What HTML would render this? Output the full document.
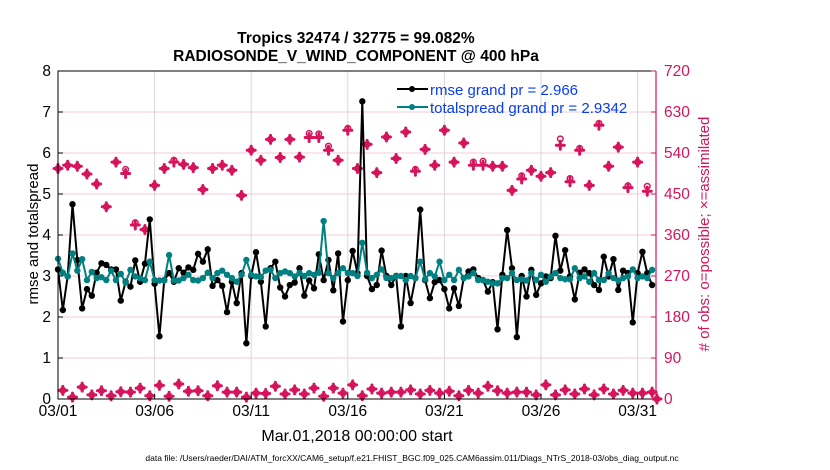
<!DOCTYPE html>
<html><head><meta charset="utf-8"><style>
body{margin:0;background:#fff;}
svg{display:block;font-family:"Liberation Sans",Arial,sans-serif;}
</style></head><body>
<svg id="chart" width="830" height="470" viewBox="0 0 830 470">
<text x="356" y="43" text-anchor="middle" font-size="15.5" font-weight="bold">Tropics 32474 / 32775 = 99.082%</text>
<text x="356" y="61" text-anchor="middle" font-size="15.5" font-weight="bold">RADIOSONDE_V_WIND_COMPONENT @ 400 hPa</text>
<g id="grid"></g>
<g id="obs"></g>
<g id="lines"></g>
<g id="axes"></g>
<g>
<line x1="397" y1="89" x2="428" y2="89" stroke="#000" stroke-width="2"/><circle cx="412" cy="89" r="3" fill="#000"/>
<text x="430" y="95" font-size="15" fill="#0a3cf0">rmse grand pr = 2.966</text>
<line x1="397" y1="107" x2="428" y2="107" stroke="#008080" stroke-width="2"/><circle cx="412" cy="107" r="3" fill="#008080"/>
<text x="430" y="113" font-size="15" fill="#0a3cf0">totalspread grand pr = 2.9342</text>
</g>
<text transform="translate(38,234) rotate(-90)" text-anchor="middle" font-size="15">rmse and totalspread</text>
<text transform="translate(709,234) rotate(-90)" text-anchor="middle" font-size="15" fill="#d6145c"># of obs: o=possible; ×=assimilated</text>
<text x="357" y="441" text-anchor="middle" font-size="16">Mar.01,2018 00:00:00 start</text>
<text x="412" y="461" text-anchor="middle" font-size="8.5">data file: /Users/raeder/DAI/ATM_forcXX/CAM6_setup/f.e21.FHIST_BGC.f09_025.CAM6assim.011/Diags_NTrS_2018-03/obs_diag_output.nc</text>
</svg>
<script>
const rmse=[3.16,2.17,2.99,4.75,3.39,2.21,2.68,2.52,3.08,3.31,3.27,3.16,3.16,2.4,2.86,2.74,3.38,2.86,3.3,4.38,2.81,1.53,2.9,3.07,2.86,3.19,3.08,3.21,3.15,3.54,3.35,3.65,
2.76,2.9,2.76,2.12,2.86,2.34,3.07,1.36,3.0,3.58,2.86,1.77,3.19,3.35,2.72,2.5,2.78,2.84,3.19,2.52,2.89,2.7,3.53,2.9,3.39,2.65,3.55,1.89,2.9,3.61,3.07,7.26,
3.0,2.68,2.78,3.62,3.0,2.78,3.0,1.77,3.0,2.34,2.95,4.62,2.9,2.46,2.85,2.9,2.68,2.21,2.7,2.27,2.95,3.11,3.16,2.95,2.9,2.62,2.85,1.7,3.03,4.12,3.19,
1.51,3.0,2.5,3.15,2.54,2.82,2.99,2.95,3.98,3.13,3.63,2.99,2.43,3.08,3.16,3.07,2.78,2.66,3.47,2.99,3.41,2.66,3.13,3.07,1.87,3.07,3.59,3.07,2.78];
const spread=[3.42,3.08,2.99,3.55,3.13,3.41,2.9,3.1,2.95,2.97,2.9,3.13,2.9,3.05,2.84,3.15,2.99,2.95,2.9,3.35,2.9,2.89,2.89,3.51,2.89,2.89,2.95,3.03,2.9,2.89,2.95,3.08,
2.95,3.07,3.13,3.03,2.95,2.86,3.03,3.39,3.03,2.99,2.97,3.13,3.15,2.95,3.07,3.11,3.07,2.99,3.07,3.0,3.07,3.03,3.08,4.34,3.07,2.95,3.07,3.19,3.07,3.07,3.0,3.81,
3.08,2.95,3.03,3.16,2.95,2.95,2.99,3.0,2.9,3.0,2.95,3.35,2.92,3.07,2.99,3.35,2.9,3.03,2.9,3.15,2.95,2.99,3.07,2.9,2.9,2.86,2.82,2.82,2.95,2.95,
3.07,2.9,2.92,2.89,3.07,2.9,3.03,2.86,2.99,3.07,2.95,2.92,2.92,3.19,2.95,2.99,2.86,3.07,2.9,2.9,3.07,2.95,2.89,2.95,2.99,3.16,2.95,2.99,2.95,3.15];
const obsAssim=[506,19,513,4,511,26,494,9,472,18,422,7,520,16,495,15,382,24,372,7,469,30,506,6,520,33,515,17,508,18,460,7,
506,29,513,15,502,15,447,4,546,13,524,12,570,28,530,11,570,20,531,11,574,24,574,6,546,24,524,13,590,31,506,7,
559,22,497,13,575,15,528,15,586,20,500,11,548,19,513,13,590,17,520,7,562,19,513,13,513,28,511,18,511,13,458,
15,483,15,502,9,489,31,497,9,557,20,477,11,546,22,469,9,601,22,511,11,553,19,464,13,520,13,456,15,0];
const obsPoss=[506,19,513,4,511,26,494,9,472,18,422,7,520,16,504,15,387,24,372,7,469,30,506,6,524,33,515,17,508,18,460,7,
506,29,513,15,502,15,447,4,546,13,524,12,570,28,530,11,570,20,531,11,583,24,582,6,555,24,524,13,594,31,506,7,
559,22,497,13,575,15,528,15,586,20,504,11,548,19,513,13,590,17,520,7,562,19,520,13,522,28,511,18,511,13,458,
15,490,15,502,9,489,31,497,9,571,20,484,11,550,22,469,9,605,22,511,11,553,19,468,13,520,13,467,15,0];
const leftTicks=[0,1,2,3,4,5,6,7,8];
const rightTicks=[0,90,180,270,360,450,540,630,720];
const dateTicks=["03/01","03/06","03/11","03/16","03/21","03/26","03/31"];

const NS="http://www.w3.org/2000/svg";
const X0=58,X1=656,Y0=399,Y1=71;
const step=4.83;
function xs(i){return X0+i*step;}
function ysL(v){return Y0-(v/8)*(Y0-Y1);}
function ysR(v){return Y0-(v/720)*(Y0-Y1);}
function mk(tag,attrs,parent){const e=document.createElementNS(NS,tag);for(const k in attrs)e.setAttribute(k,attrs[k]);parent.appendChild(e);return e;}
const grid=document.getElementById('grid'),obsG=document.getElementById('obs'),linesG=document.getElementById('lines'),axes=document.getElementById('axes');

rightTicks.forEach((t,k)=>{if(k>0&&k<rightTicks.length-1){const l=mk('line',{x1:X0,x2:X1,y1:ysR(t),y2:ysR(t),stroke:'#f3cddb','stroke-width':1},grid);

}});
dateTicks.forEach((d,k)=>{const x=xs(k*20);if(k>0){const l=mk('line',{x1:x,x2:x,y1:Y1,y2:Y0,stroke:'#d8d8d8','stroke-width':1},grid);

}
mk('line',{x1:x,x2:x,y1:Y0,y2:Y0-5,stroke:'#000'},axes);
const t=mk('text',{x:x,y:416,'text-anchor':'middle','font-size':15.5},axes);t.textContent=d;

});

// obs markers
const pink='#d6145c';
obsAssim.forEach((v,i)=>{const x=xs(i),y=ysR(v);const g=mk('g',{stroke:pink,'stroke-width':3,'stroke-linecap':'round',fill:pink},obsG);


const r=4;mk('line',{x1:x-r,x2:x+r,y1:y,y2:y},g);mk('line',{x1:x,x2:x,y1:y-r,y2:y+r},g);
mk('circle',{cx:x,cy:y,r:2.2,stroke:'none'},g);});
obsPoss.forEach((v,i)=>{const c=mk('circle',{cx:xs(i),cy:ysR(v),r:2.8,fill:'none',stroke:pink,'stroke-width':1.5},obsG);

});

function series(arr,color,name){const p=mk('polyline',{points:arr.map((v,i)=>xs(i)+','+ysL(v)).join(' '),fill:'none',stroke:color,'stroke-width':2},linesG);


arr.forEach((v,i)=>{const c=mk('circle',{cx:xs(i),cy:ysL(v),r:3.2,fill:color},linesG);

});}
series(rmse,'#000','rmse');
series(spread,'#008080','totalspread');

// axes frame
mk('path',{d:`M${X1},${Y1} L${X0},${Y1} L${X0},${Y0} L${X1},${Y0}`,fill:'none',stroke:'#000','stroke-width':1},axes);
mk('line',{x1:X1,x2:X1,y1:Y1,y2:Y0,stroke:pink,'stroke-width':1.2},axes);
leftTicks.forEach(t=>{const y=ysL(t);mk('line',{x1:X0,x2:X0+5,y1:y,y2:y,stroke:'#000'},axes);
const tx=mk('text',{x:X0-7,y:y+5,'text-anchor':'end','font-size':15.5},axes);tx.textContent=t;

});
rightTicks.forEach(t=>{const y=ysR(t);mk('line',{x1:X1,x2:X1-5,y1:y,y2:y,stroke:pink},axes);
const tx=mk('text',{x:X1+8,y:y+5,'font-size':15.5,fill:pink},axes);tx.textContent=t;

});
</script>
</body></html>
